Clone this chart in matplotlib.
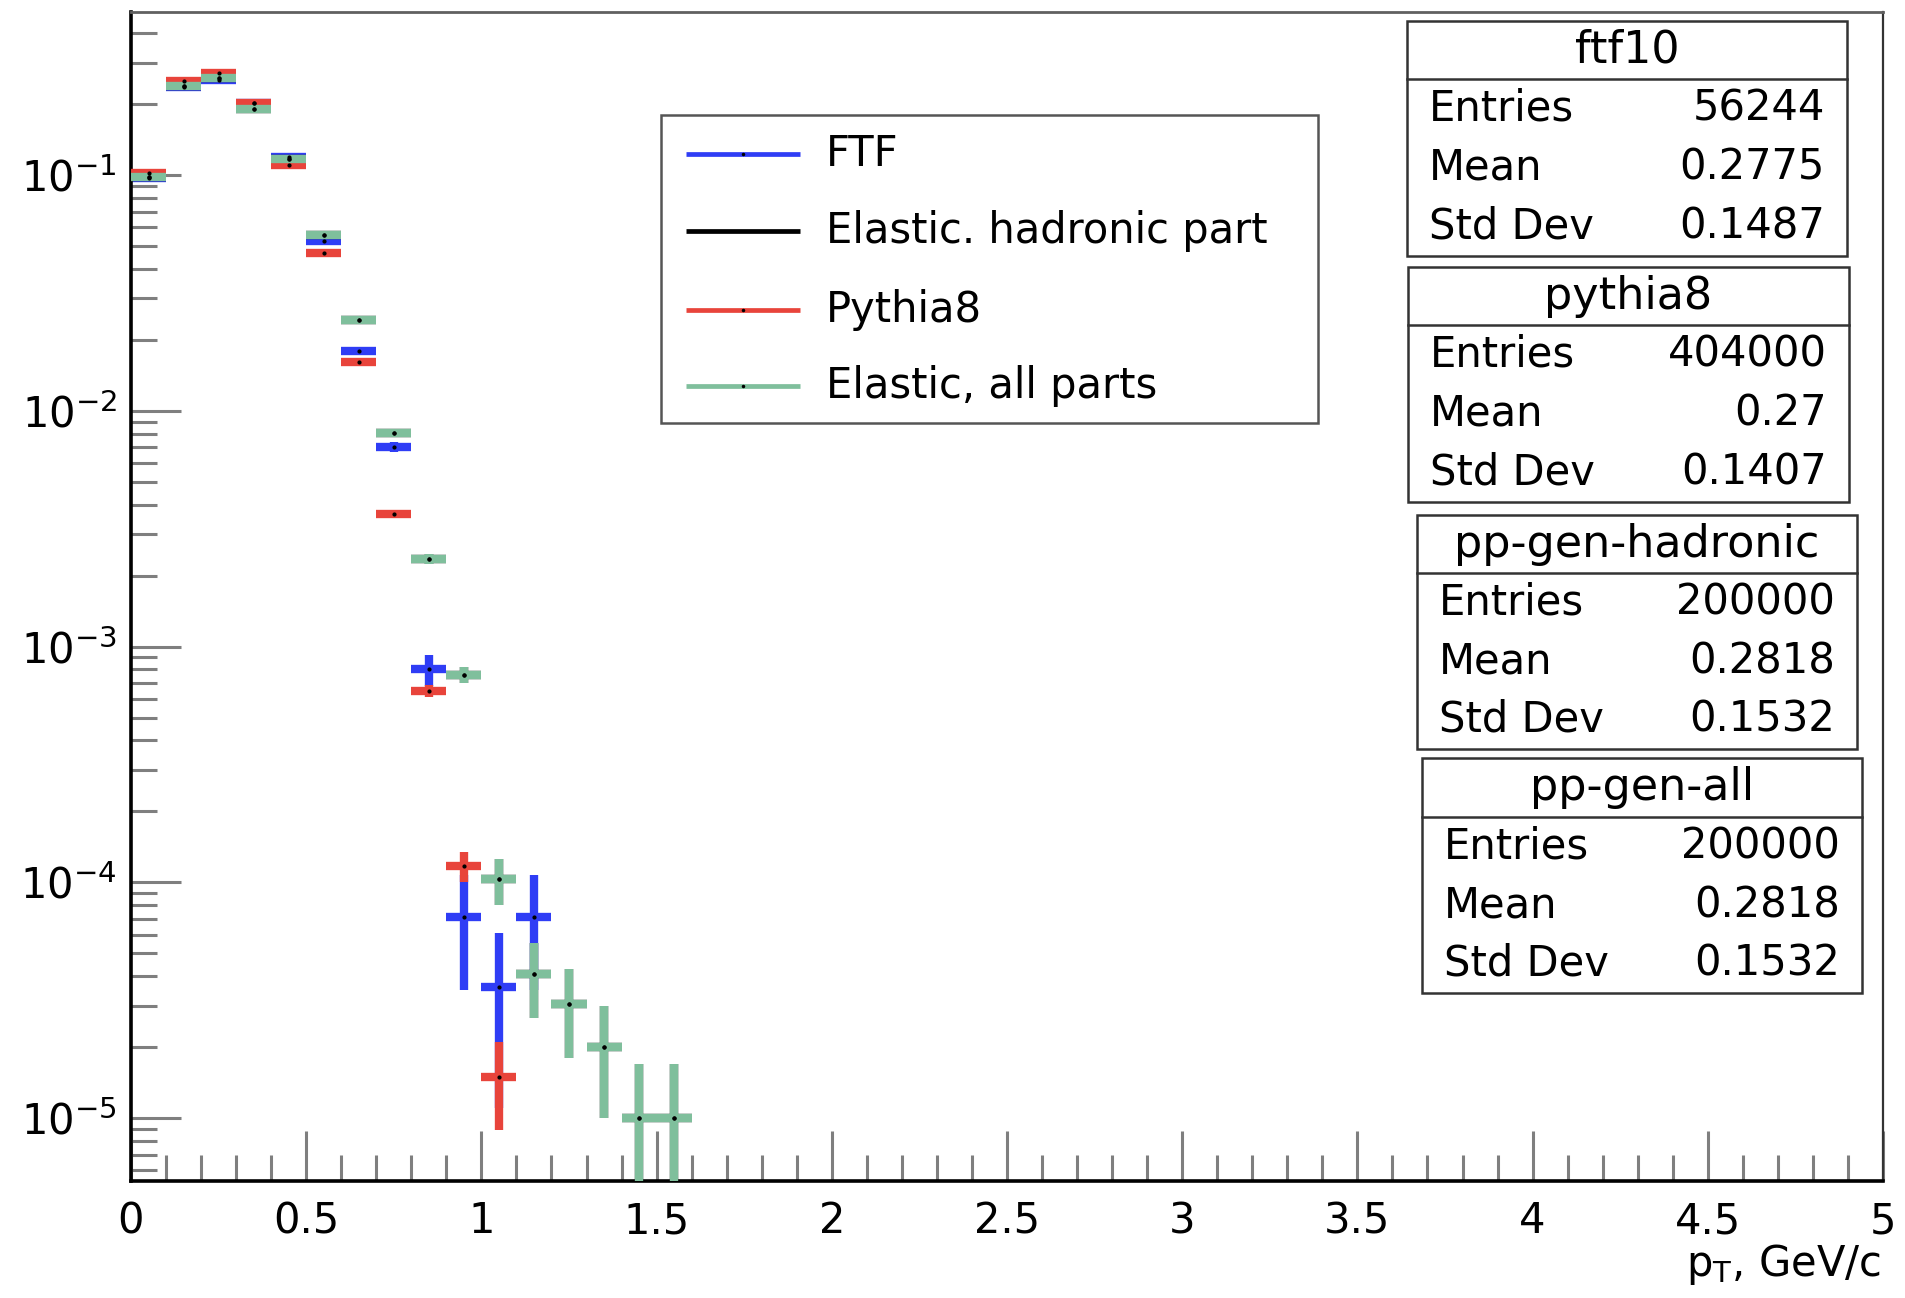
import matplotlib
matplotlib.use("Agg")
import matplotlib.pyplot as plt
from matplotlib.patches import Rectangle
from matplotlib.lines import Line2D
from matplotlib.ticker import MultipleLocator, LogLocator, NullFormatter, FuncFormatter

# --- data: normalised pT spectra, bins of 0.1 GeV/c ---
bin_centers = [0.05, 0.15, 0.25, 0.35, 0.45, 0.55, 0.65, 0.75,
               0.85, 0.95, 1.05, 1.15, 1.25, 1.35, 1.45, 1.55]

ftf_vals = [0.097, 0.237, 0.252, 0.202, 0.119, 0.0528, 0.0179, 0.00702,
            0.00080, 7.1e-5, 3.6e-5, 7.1e-5]
ftf_errs = [0.0013, 0.002, 0.0021, 0.0019, 0.0015, 0.001, 0.00056, 0.00035,
            0.00012, 3.6e-5, 2.5e-5, 3.6e-5]

pythia_vals = [0.102, 0.251, 0.270, 0.203, 0.110, 0.0467, 0.0161, 0.00364,
               0.00065, 1.17e-4, 1.5e-5]
pythia_errs = [0.0005, 0.0008, 0.0008, 0.0007, 0.0005, 0.00034, 0.0002, 9.5e-5,
               4e-5, 1.7e-5, 0.61e-5]

# hadronic part and "all parts" are identical (same stats box values)
hadr_vals = [0.098, 0.239, 0.257, 0.191, 0.117, 0.0558, 0.0244, 0.00807,
             0.00236, 0.00076, 1.03e-4, 4.1e-5, 3.05e-5, 2.0e-5, 1.0e-5, 1.0e-5]
hadr_errs = [0.0007, 0.0011, 0.0011, 0.001, 0.0008, 0.0005, 0.00035, 0.0002,
             0.00011, 6e-5, 2.3e-5, 1.45e-5, 1.25e-5, 1.0e-5, 0.7e-5, 0.7e-5]
all_vals = hadr_vals
all_errs = hadr_errs

legend_labels = ["FTF", "Elastic. hadronic part", "Pythia8", "Elastic, all parts"]
colors = ["#2f3df5", "#000000", "#e8443b", "#7fbf9c"]

stat_names = ["ftf10", "pythia8", "pp-gen-hadronic", "pp-gen-all"]
stat_entries = ["56244", "404000", "200000", "200000"]
stat_means = ["0.2775", "0.27", "0.2818", "0.2818"]
stat_stds = ["0.1487", "0.1407", "0.1532", "0.1532"]

W, H = 1905, 1298


def fx(px):
    return px / W


def fy(py):
    return 1 - py / H


plt.rcParams["font.family"] = ["DejaVu Sans"]
plt.rcParams["mathtext.default"] = "regular"

fig = plt.figure(figsize=(W / 100, H / 100), dpi=100)
ax = fig.add_axes([fx(131), fy(1181), (1883 - 131) / W, (1181 - 12) / H])

series = [
    (ftf_vals, ftf_errs),
    (hadr_vals, hadr_errs),
    (pythia_vals, pythia_errs),
    (all_vals, all_errs),
]

# draw order as in the original: FTF, hadronic, Pythia8, all parts
for i, (vals, errs) in enumerate(series):
    x = bin_centers[:len(vals)]
    eb = ax.errorbar(x, vals, xerr=0.05, yerr=errs, fmt="none",
                     ecolor=colors[i], elinewidth=6.0, capsize=0, zorder=2 + i)
    for lc in eb.lines[2]:
        lc.set_capstyle("butt")

for vals, errs in series:
    ax.plot(bin_centers[:len(vals)], vals, ls="none", marker="o", ms=2.0,
            color="black", zorder=10)

ax.set_yscale("log")
ax.set_xlim(0, 5)
ax.set_ylim(5.41e-6, 0.492)

ax.xaxis.set_major_locator(MultipleLocator(0.5))
ax.xaxis.set_minor_locator(MultipleLocator(0.1))
ax.xaxis.set_major_formatter(FuncFormatter(lambda v, p: f"{v:g}"))
ax.yaxis.set_major_locator(LogLocator(base=10, numticks=20))
ax.yaxis.set_minor_locator(LogLocator(base=10, subs=range(2, 10), numticks=30))
ax.yaxis.set_minor_formatter(NullFormatter())

ax.tick_params(which="both", direction="in", top=False, right=False,
               color="#7f7f7f", width=2.2, labelsize=30)
ax.tick_params(which="major", length=36)
ax.tick_params(which="minor", length=19)
ax.tick_params(axis="x", which="major", pad=14)
ax.tick_params(axis="y", which="major", pad=10)

for side in ["left", "bottom"]:
    ax.spines[side].set_linewidth(2.6)
    ax.spines[side].set_color("black")
ax.spines["top"].set_linewidth(2.0)
ax.spines["top"].set_color("#606060")
ax.spines["right"].set_linewidth(1.6)
ax.spines["right"].set_color("#333333")

fig.text(fx(1881), fy(1276), r"$p_{T}$, GeV/c", ha="right", va="baseline", fontsize=30)

# legend box
fig.add_artist(Rectangle((fx(661), fy(423)), (1318 - 661) / W, (423 - 115) / H,
                         transform=fig.transFigure, facecolor="white",
                         edgecolor="#555555", lw=1.8, zorder=5))
legend_rows = [154, 231, 310, 386]
for i, row in enumerate(legend_rows):
    fig.add_artist(Line2D([fx(686), fx(800)], [fy(row), fy(row)], transform=fig.transFigure,
                          color=colors[i], lw=3.4, solid_capstyle="butt", zorder=6))
    if i != 1:
        fig.add_artist(Line2D([fx(743)], [fy(row)], transform=fig.transFigure, marker="o",
                              ms=1.5, color="black", ls="none", zorder=7))
    fig.text(fx(826), fy(row), legend_labels[i], ha="left", va="center",
             fontsize=30, zorder=7)

# stats boxes: left, top, right, bottom, header line (pixels)
stat_boxes = [
    (1407, 21, 1847, 256, 79),
    (1408, 267, 1849, 502, 325),
    (1417, 515, 1857, 749, 573),
    (1422, 758, 1862, 993, 817),
]
for k, (l, t, r, b, hd) in enumerate(stat_boxes):
    fig.add_artist(Rectangle((fx(l), fy(b)), (r - l) / W, (b - t) / H,
                             transform=fig.transFigure, facecolor="white",
                             edgecolor="#333333", lw=1.8, zorder=5))
    fig.add_artist(Line2D([fx(l), fx(r)], [fy(hd), fy(hd)], transform=fig.transFigure,
                          color="#333333", lw=1.8, zorder=6))
    fig.text(fx((l + r) / 2), fy((t + hd) / 2), stat_names[k], ha="center",
             va="center", fontsize=32, zorder=7)
    rows = [("Entries", stat_entries[k]), ("Mean", stat_means[k]), ("Std Dev", stat_stds[k])]
    for j, (name, val) in enumerate(rows):
        yy = hd + (b - hd) * (2 * j + 1) / 6
        fig.text(fx(l + 22), fy(yy), name, ha="left", va="center", fontsize=30, zorder=7)
        fig.text(fx(r - 22), fy(yy), val, ha="right", va="center", fontsize=30, zorder=7)

fig.savefig("out.png", dpi=100)
